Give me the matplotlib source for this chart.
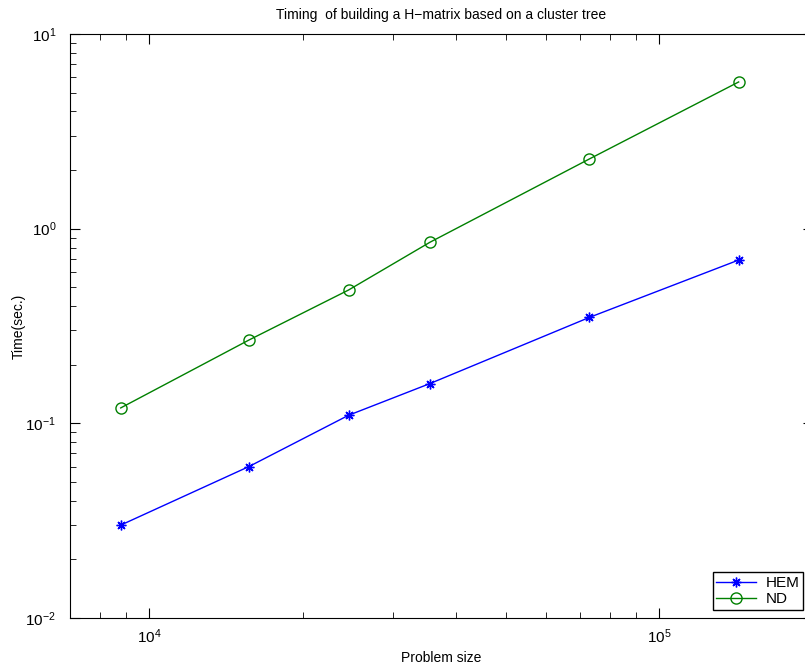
import matplotlib.pyplot as plt
import numpy as np

# data (log-log)
problem_size = [8800, 15700, 24600, 35500, 72900, 143000]
hem_time = [0.030, 0.060, 0.110, 0.160, 0.350, 0.690]
nd_time = [0.120, 0.268, 0.484, 0.851, 2.28, 5.67]

plt.rcParams['font.family'] = ['Liberation Sans', 'DejaVu Sans']
plt.rcParams['font.size'] = 10

fig = plt.figure(figsize=(8.05, 6.7), dpi=100)
ax = fig.add_axes([70 / 805, 52 / 670, 743 / 805, 584 / 670])

ax.loglog(problem_size, hem_time, color='#0000ff', lw=1, marker=(8, 2, 0),
          markersize=7, markeredgewidth=1, label='HEM')
ax.loglog(problem_size, nd_time, color='#008000', lw=1, marker='o',
          markersize=8, markerfacecolor='none', markeredgewidth=1, label='ND')

ax.set_xlim(7000, 2e5)
ax.set_ylim(1e-2, 1e1)

ax.tick_params(which='both', direction='in', top=True, right=True, labelsize=11)
ax.tick_params(which='major', length=7)
ax.tick_params(which='minor', length=4)
ax.tick_params(axis='y', which='major', pad=10)
ax.tick_params(axis='x', which='major', pad=7)

ax.set_title('Timing  of building a H\u2212matrix based on a cluster tree', fontsize=10, pad=11)
ax.set_xlabel('Problem size', fontsize=10)
ax.set_ylabel('Time(sec.)', fontsize=10)
ax.xaxis.set_label_coords(0.5, -0.057)
ax.yaxis.set_label_coords(-0.059, 0.5)

leg = ax.legend(loc='lower right', bbox_to_anchor=(803 / 805, 60 / 670),
                bbox_transform=fig.transFigure, fancybox=False, edgecolor='black',
                framealpha=1, borderaxespad=0, handlelength=2.6, fontsize=11,
                borderpad=0.25, labelspacing=0.15, handletextpad=0.6)
leg.get_frame().set_linewidth(1)

fig.savefig('out.png', dpi=100)
